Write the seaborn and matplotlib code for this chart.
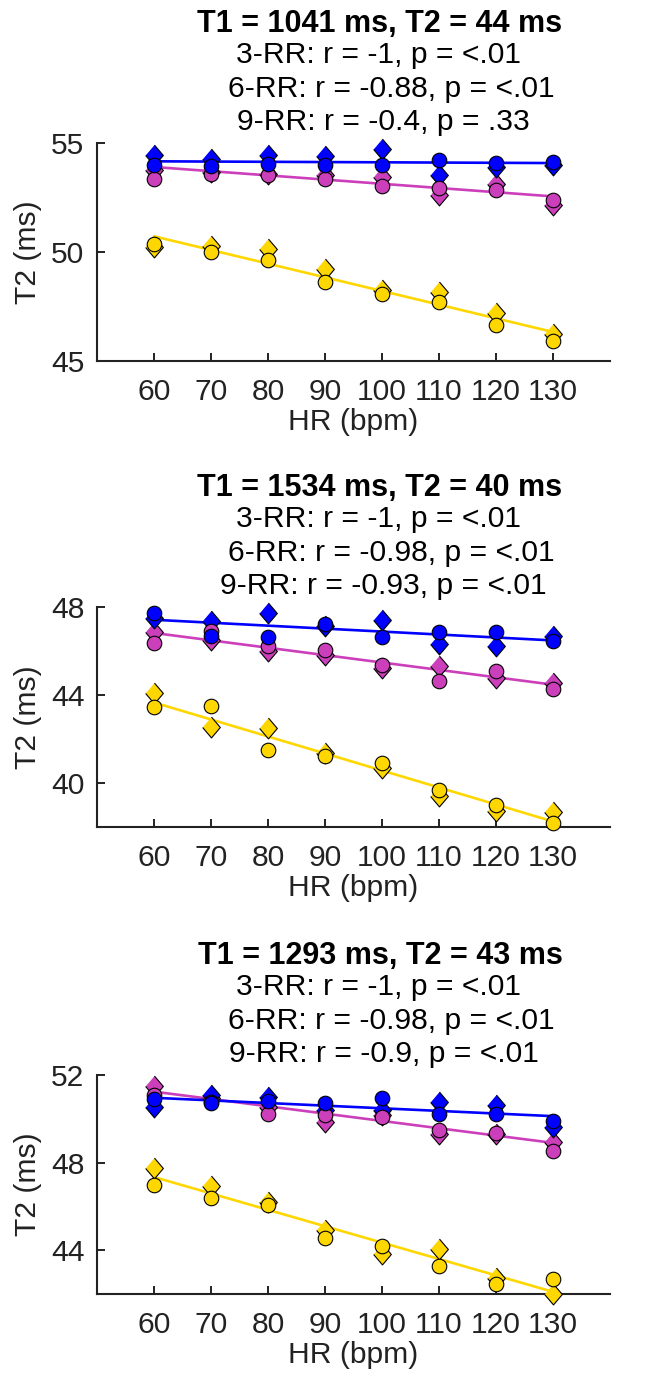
import numpy as np
import pandas as pd
import matplotlib
matplotlib.use("Agg")
import matplotlib.pyplot as plt
import seaborn as sns

# ---------------- data ----------------
hr = [60, 70, 80, 90, 100, 110, 120, 130]
fit_hr = [60, 130]

panel_titles = ["T1 = 1041 ms, T2 = 44 ms",
                "T1 = 1534 ms, T2 = 40 ms",
                "T1 = 1293 ms, T2 = 43 ms"]
stats_3rr = ["3-RR: r = -1, p = <.01",
             "3-RR: r = -1, p = <.01",
             "3-RR: r = -1, p = <.01"]
stats_6rr = ["6-RR: r = -0.88, p = <.01",
             "6-RR: r = -0.98, p = <.01",
             "6-RR: r = -0.98, p = <.01"]
stats_9rr = ["9-RR: r = -0.4, p = .33",
             "9-RR: r = -0.93, p = <.01",
             "9-RR: r = -0.9, p = <.01"]

ylims = [(45, 55), (38, 48), (42, 52)]
yticks = [[45, 50, 55], [40, 44, 48], [44, 48, 52]]
xticks = [60, 70, 80, 90, 100, 110, 120, 130]

# Panel 1 (T1 = 1041 ms)
p1_3rr_circ = [50.35, 50.00, 49.62, 48.62, 48.06, 47.71, 46.64, 45.92]
p1_3rr_diam = [50.23, 50.26, 50.15, 49.24, 48.24, 48.17, 47.20, 46.26]
p1_3rr_fit = [50.72, 46.33]
p1_6rr_circ = [53.33, 53.60, 53.52, 53.37, 53.03, 52.95, 52.83, 52.37]
p1_6rr_diam = [53.75, 53.68, 53.60, 53.52, 53.44, 52.60, 53.14, 52.14]
p1_6rr_fit = [53.90, 52.55]
p1_9rr_circ = [53.98, 53.93, 54.05, 53.98, 53.98, 54.24, 54.08, 54.14]
p1_9rr_diam = [54.44, 54.28, 54.44, 54.39, 54.74, 53.55, 53.90, 53.98]
p1_9rr_fit = [54.16, 54.08]

# Panel 2 (T1 = 1534 ms)
p2_3rr_circ = [43.45, 43.50, 41.51, 41.25, 40.91, 39.70, 39.01, 38.20]
p2_3rr_diam = [44.09, 42.53, 42.50, 41.36, 40.68, 39.43, 38.72, 38.68]
p2_3rr_fit = [43.66, 38.25]
p2_6rr_circ = [46.36, 46.89, 46.21, 46.03, 45.38, 44.62, 45.07, 44.27]
p2_6rr_diam = [46.85, 46.48, 46.00, 45.80, 45.23, 45.32, 44.77, 44.56]
p2_6rr_fit = [46.82, 44.47]
p2_9rr_circ = [47.72, 46.70, 46.62, 47.23, 46.62, 46.85, 46.86, 46.44]
p2_9rr_diam = [47.50, 47.35, 47.72, 47.12, 47.39, 46.33, 46.24, 46.67]
p2_9rr_fit = [47.42, 46.48]

# Panel 3 (T1 = 1293 ms)
p3_3rr_circ = [47.00, 46.39, 46.08, 44.54, 44.20, 43.28, 42.47, 42.67]
p3_3rr_diam = [47.77, 46.95, 46.18, 44.92, 43.82, 44.05, 42.75, 42.01]
p3_3rr_fit = [47.34, 42.10]
p3_6rr_circ = [51.08, 50.78, 50.24, 50.16, 50.06, 49.51, 49.35, 48.53]
p3_6rr_diam = [51.50, 50.93, 50.55, 49.86, 50.16, 49.32, 49.29, 48.95]
p3_6rr_fit = [51.24, 48.90]
p3_9rr_circ = [50.90, 50.70, 50.82, 50.70, 50.96, 50.21, 50.21, 49.90]
p3_9rr_diam = [50.55, 51.08, 51.00, 50.40, 50.40, 50.78, 50.62, 49.63]
p3_9rr_fit = [50.96, 50.12]

panels = [
    [(p1_3rr_circ, p1_3rr_diam, p1_3rr_fit),
     (p1_6rr_circ, p1_6rr_diam, p1_6rr_fit),
     (p1_9rr_circ, p1_9rr_diam, p1_9rr_fit)],
    [(p2_3rr_circ, p2_3rr_diam, p2_3rr_fit),
     (p2_6rr_circ, p2_6rr_diam, p2_6rr_fit),
     (p2_9rr_circ, p2_9rr_diam, p2_9rr_fit)],
    [(p3_3rr_circ, p3_3rr_diam, p3_3rr_fit),
     (p3_6rr_circ, p3_6rr_diam, p3_6rr_fit),
     (p3_9rr_circ, p3_9rr_diam, p3_9rr_fit)],
]

# ---------------- style ----------------
colors = ["#FFD700", "#CC3FBB", "#0000FF"]   # 3-RR, 6-RR, 9-RR
sns.set_theme(style="ticks")
plt.rcParams["font.family"] = ["Liberation Sans", "DejaVu Sans"]

W, H = 668, 1376
fig = plt.figure(figsize=(W / 100, H / 100), dpi=100)

def fx(px):
    return px / W

def fy(py):
    return 1 - py / H

diamond = [(0, 1), (0.85, 0), (0, -1), (-0.85, 0)]

ax_left, ax_right = 97, 610
ax_tb = [(143, 361), (607, 827), (1075, 1294)]
FS = 21.6
FSB = 22

for i, (top, bot) in enumerate(ax_tb):
    ax = fig.add_axes([fx(ax_left), fy(bot), fx(ax_right - ax_left), (bot - top) / H])
    for (circ, diam, fit), col in zip(panels[i], colors):
        sns.lineplot(x=fit_hr, y=fit, ax=ax, color=col, linewidth=1.9, zorder=2)
        sns.scatterplot(x=hr, y=diam, ax=ax, marker=diamond, s=225, color=col,
                        edgecolor="black", linewidth=0.8, zorder=3, clip_on=False)
        sns.scatterplot(x=hr, y=circ, ax=ax, marker="o", s=110, color=col,
                        edgecolor="black", linewidth=0.8, zorder=4, clip_on=False)
    ax.set_xlim(50, 140)
    ax.set_ylim(*ylims[i])
    ax.set_xticks(xticks)
    ax.set_yticks(yticks[i])
    ax.set_xticklabels([str(v) for v in xticks])
    ax.set_yticklabels([str(v) for v in yticks[i]])
    ax.tick_params(direction="in", length=5.5, width=1.4, labelsize=FS,
                   colors="#222222", labelcolor="#222222")
    ax.tick_params(axis="x", pad=12)
    ax.tick_params(axis="y", pad=9)
    sns.despine(ax=ax)
    for s in ["left", "bottom"]:
        ax.spines[s].set_linewidth(1.5)
        ax.spines[s].set_color("#222222")
    ax.set_xlabel("")
    ax.set_ylabel("")
    ax.grid(False)

    # axis labels
    fig.text(fx(353), fy(bot + 61), "HR (bpm)", ha="center", va="center",
             fontsize=FS, color="#222222")
    fig.text(fx(28), fy((top + bot) / 2), "T2 (ms)", ha="center", va="center",
             rotation=90, fontsize=FS, color="#222222")

    # title block
    fig.text(fx(380), fy(top - 111), panel_titles[i], ha="center", va="baseline",
             fontsize=FSB, fontweight="bold", color="black")
    fig.text(fx(378.5), fy(top - 80), stats_3rr[i], ha="center", va="baseline",
             fontsize=FS, color="black")
    fig.text(fx(391), fy(top - 46), stats_6rr[i], ha="center", va="baseline",
             fontsize=FS, color="black")
    fig.text(fx(383.5), fy(top - 13), stats_9rr[i], ha="center", va="baseline",
             fontsize=FS, color="black")

fig.savefig("out.png", dpi=100, facecolor="white")
